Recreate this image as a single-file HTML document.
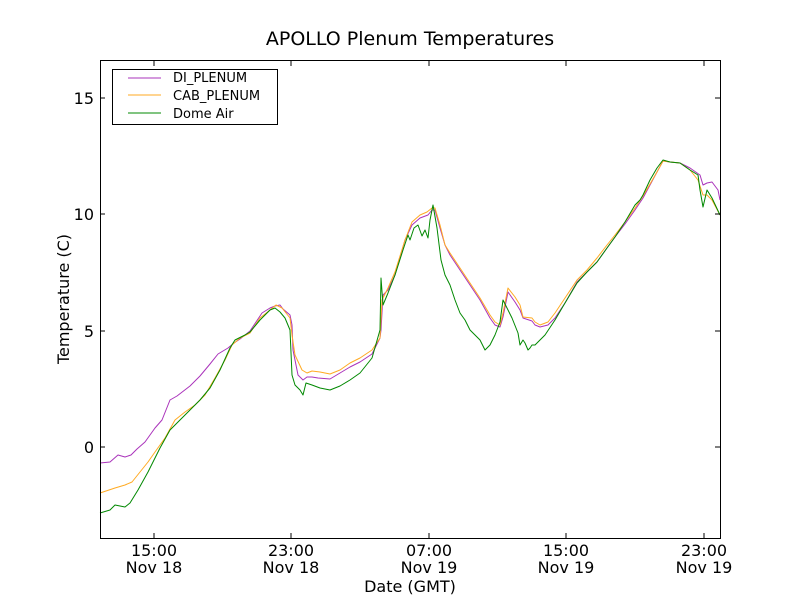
<!DOCTYPE html>
<html><head><meta charset="utf-8"><style>body{margin:0;background:#fff}svg{display:block}</style></head><body>
<svg width="800" height="600" xmlns="http://www.w3.org/2000/svg" font-family="DejaVu Sans, Liberation Sans, sans-serif">
<rect width="800" height="600" fill="#fff"/>
<text x="410" y="45" font-size="19" text-anchor="middle">APOLLO Plenum Temperatures</text>
<g fill="none" stroke-width="1" stroke-linejoin="round">
<polyline stroke="#aa33bb" points="100,463 110,462 118,455 125,457 131,455 137,449 145,442 155,428 162,420 170,400 177,396 190,386 200,376 210,364 218,354 228,348 234,343 240,339 250,331 262,313 270,308 275,306 280,305 283,309 290,315 292,325 293,350 298,375 303,380 307,377 312,377 318,378 330,379 340,373 350,367 360,362 372,354 380,338 381,330 383,295 388,290 395,275 405,240 412,225 420,218 428,215 432,210 435,210 440,228 445,245 450,255 460,270 470,285 480,300 490,318 495,325 500,327 503,317 508,292 515,302 520,310 523,318 532,321 535,325 540,327 548,325 555,318 565,303 577,282 587,272 597,262 607,248 615,237 625,224 635,210 643,198 650,185 657,172 663,161 670,162 680,163 690,168 700,175 703,185 707,183 712,182 718,190 720,200"/>
<polyline stroke="#ffaa22" points="100,493 115,488 125,485 132,482 140,472 148,462 155,452 165,438 175,420 185,412 195,405 205,395 215,378 225,360 232,345 240,338 250,333 260,318 270,310 276,305 282,308 290,318 292,335 295,355 302,370 307,373 312,371 320,372 330,374 340,370 350,363 360,358 372,350 380,338 382,300 388,288 395,272 405,240 412,222 420,215 427,212 432,208 435,208 440,225 445,245 450,253 460,268 470,283 480,298 490,315 495,322 500,325 503,313 508,288 515,297 520,305 523,317 532,318 535,322 540,325 548,322 555,313 565,298 577,280 587,270 597,258 607,245 615,235 625,222 635,208 643,196 650,184 657,172 663,161 670,162 680,163 690,170 698,180 703,195 707,195 712,200 720,215"/>
<polyline stroke="#008800" points="100,513 110,510 115,505 125,507 130,503 138,490 148,472 160,448 170,430 180,420 190,410 200,400 210,388 220,370 230,348 235,340 245,335 250,332 260,320 270,310 275,308 280,312 285,318 290,330 292,375 295,385 300,390 303,395 306,383 312,385 320,388 330,390 340,386 350,380 360,373 372,358 380,330 381,278 383,305 388,293 395,275 403,250 408,235 410,240 414,228 418,225 422,236 425,230 428,238 430,220 433,205 437,228 441,260 445,275 450,285 455,300 460,313 465,320 470,330 475,335 480,340 485,350 490,345 495,335 500,322 503,300 507,308 512,318 518,333 520,345 523,340 525,343 528,350 530,348 532,345 535,345 540,340 545,335 555,320 565,303 577,283 587,272 597,262 607,248 615,237 625,222 635,205 640,200 643,195 650,180 657,168 663,160 670,162 680,163 690,170 698,175 700,190 703,207 707,190 712,198 720,215"/>
</g>
<rect x="100.5" y="60.5" width="620" height="478" fill="none" stroke="#000"/>
<g stroke="#000">
<path d="M100,98h5M100,214h5M100,331h5M100,447h5M720,98h-5M720,214h-5M720,331h-5M720,447h-5"/>
<path d="M154,538v-5M291,538v-5M429,538v-5M566,538v-5M704,538v-5M154,61v5M291,61v5M429,61v5M566,61v5M704,61v5"/>
</g>
<g font-size="16" text-anchor="end">
<text x="94" y="104">15</text><text x="94" y="220">10</text><text x="94" y="337">5</text><text x="94" y="453">0</text>
</g>
<g font-size="16" text-anchor="middle">
<text x="154" y="556">15:00</text><text x="154" y="573">Nov 18</text>
<text x="291" y="556">23:00</text><text x="291" y="573">Nov 18</text>
<text x="429" y="556">07:00</text><text x="429" y="573">Nov 19</text>
<text x="566" y="556">15:00</text><text x="566" y="573">Nov 19</text>
<text x="704" y="556">23:00</text><text x="704" y="573">Nov 19</text>
<text x="410" y="592" font-size="16">Date (GMT)</text>
<text transform="translate(69,299) rotate(-90)" font-size="16">Temperature (C)</text>
</g>
<rect x="112.5" y="69.5" width="165" height="55" fill="#fff" stroke="#000"/>
<path d="M128,78h33" stroke="#aa33bb"/><path d="M128,95h33" stroke="#ffaa22"/><path d="M128,113h33" stroke="#008800"/>
<g font-size="13"><text x="173" y="82">DI_PLENUM</text><text x="173" y="100">CAB_PLENUM</text><text x="173" y="118">Dome Air</text></g>
</svg>
</body></html>
